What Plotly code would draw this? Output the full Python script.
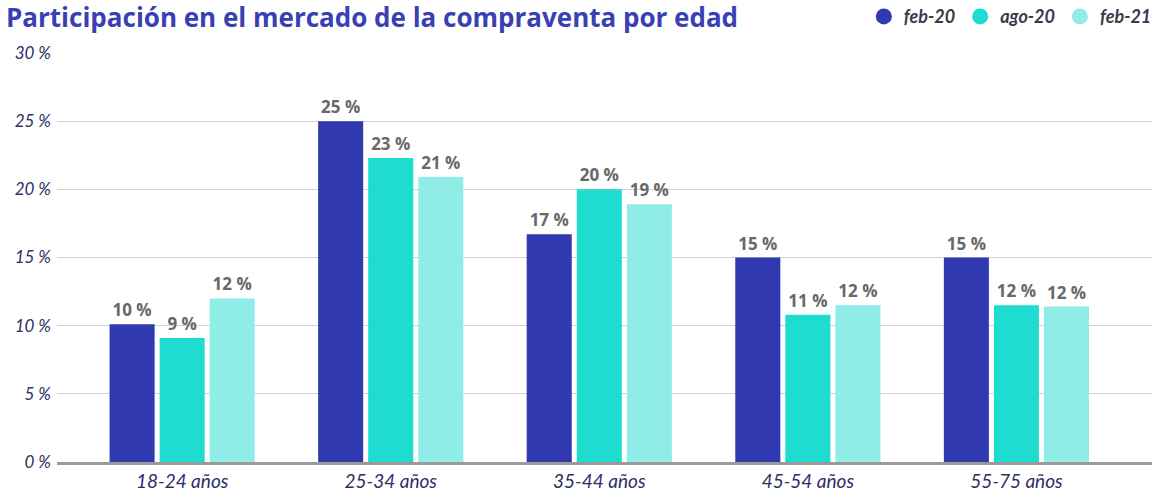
import plotly.graph_objects as go

categories = ["18-24 años", "25-34 años", "35-44 años", "45-54 años", "55-75 años"]
series_names = ["feb-20", "ago-20", "feb-21"]
feb20 = [10.1, 25.0, 16.7, 15.0, 15.0]
ago20 = [9.1, 22.3, 20.0, 10.8, 11.5]
feb21 = [12.0, 20.9, 18.9, 11.5, 11.4]
feb20_labels = ["10 %", "25 %", "17 %", "15 %", "15 %"]
ago20_labels = ["9 %", "23 %", "20 %", "11 %", "12 %"]
feb21_labels = ["12 %", "21 %", "19 %", "12 %", "12 %"]
y_ticks = [0, 5, 10, 15, 20, 25, 30]
y_tick_labels = ["0 %", "5 %", "10 %", "15 %", "20 %", "25 %", "30 %"]
title_text = "Participación en el mercado de la compraventa por edad"

colors = ["#3139B0", "#1EDDD0", "#8FECE7"]
values = [feb20, ago20, feb21]
labels = [feb20_labels, ago20_labels, feb21_labels]

fig = go.Figure()
for name, vals, labs, col in zip(series_names, values, labels, colors):
    fig.add_trace(go.Bar(
        x=categories, y=vals, name=name, marker_color=col,
        marker_line_width=0,
        text=labs, texttemplate="%{text}", textposition="outside",
        textfont=dict(family="Open Sans", size=17, color="#686868", weight="bold"),
        cliponaxis=False, showlegend=False,
    ))
for name, col in zip(series_names, colors):
    fig.add_trace(go.Scatter(
        x=[None], y=[None], mode="markers", name=name,
        marker=dict(symbol="circle", size=16, color=col),
        showlegend=True,
    ))

fig.update_layout(
    width=1158, height=493,
    margin=dict(l=57, r=6, t=53, b=31, autoexpand=False),
    paper_bgcolor="white", plot_bgcolor="white",
    barmode="group", bargap=0.28, bargroupgap=0.1,
    font=dict(family="Lato", color="#2b2f66"),
    legend=dict(
        orientation="h", x=0.999, xanchor="right", y=0.966, yanchor="middle",
        yref="container", xref="container",
        font=dict(family="Lato", size=18, color="#3a3a4a", style="italic", weight="bold"),
        itemwidth=30, tracegroupgap=0, bgcolor="rgba(0,0,0,0)",
    ),
    annotations=[dict(
        text=title_text, xref="paper", yref="paper",
        x=-0.048, xanchor="left", y=1.0, yanchor="bottom", yshift=16,
        showarrow=False,
        font=dict(family="Open Sans", size=26, color="#3a3fb3", weight="bold"),
    )],
)

fig.update_xaxes(
    range=[-0.6, 4.65], showgrid=False, automargin=False,
    showline=True, linecolor="#9a9a9a", linewidth=3,
    ticks="", ticklabelstandoff=0,
    tickfont=dict(family="Lato", size=19, color="#2b2f66", style="italic"),
)
fig.update_yaxes(
    range=[0, 30], tickvals=y_ticks, ticktext=y_tick_labels, automargin=False,
    showgrid=True, gridcolor="#d2d2d2", gridwidth=1,
    zeroline=False, showline=False, ticks="",
    ticklabelstandoff=5,
    tickfont=dict(family="Lato", size=17, color="#2b2f66", style="italic"),
)

fig.write_html("out.html")
